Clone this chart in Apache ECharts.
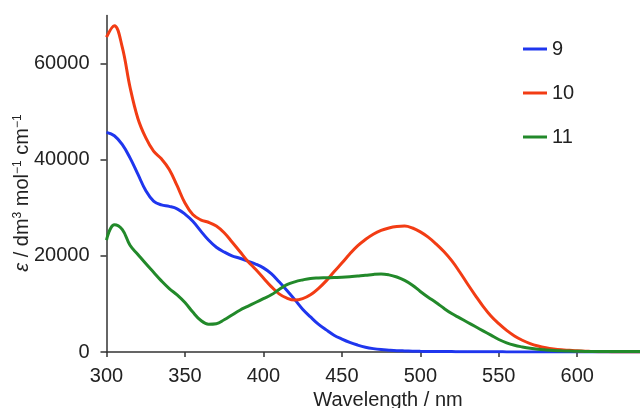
<!DOCTYPE html>
<html>
<head>
<meta charset="utf-8">
<script src="https://cdn.jsdelivr.net/npm/echarts@6/dist/echarts.min.js"></script>
<style>
html,body{margin:0;padding:0;background:#fff;}
#chart{width:640px;height:408px;}
</style>
</head>
<body>
<div id="chart"></div>
<script>
const wavelengths = [300,305,310,315,320,325,330,335,340,345,350,355,360,365,370,375,380,385,390,395,400,405,410,415,420,425,430,435,440,445,450,455,460,465,470,475,480,485,490,495,500,505,510,515,520,525,530,535,540,545,550,555,560,565,570,575,580,585,590,595,600,605,610,615,620,625,630,635,640];
const series9 = [45700,45000,43200,40400,37000,33600,31400,30600,30300,29800,28700,27200,25200,23300,21800,20800,20000,19500,18900,18300,17500,16300,14600,12800,10900,8900,7300,5800,4600,3500,2700,2000,1450,1000,700,500,380,280,220,170,140,120,100,90,80,70,60,50,40,35,30,25,20,15,10,5,0,0,0,0,0,0,0,0,0,0,0,0,0];
const series10 = [65500,67900,63500,55100,48600,44600,41800,40200,38000,34600,31000,28600,27500,27000,26200,24800,22900,20900,18900,17200,15400,13600,12100,11200,10800,11100,11900,13200,14800,16700,18500,20400,22100,23400,24500,25300,25800,26100,26200,25800,25000,23900,22500,20900,19000,16700,14200,11800,9500,7500,5900,4500,3350,2450,1750,1250,880,620,450,350,250,180,100,60,30,0,0,0,0];
const series11 = [23300,26500,25500,22200,20300,18400,16600,14800,13200,11900,10300,8300,6600,5800,5900,6700,7700,8700,9500,10300,11100,11900,13000,14000,14600,15000,15300,15400,15450,15500,15550,15650,15800,15950,16150,16250,16050,15600,14900,13900,12600,11400,10300,9100,8000,7100,6200,5300,4400,3500,2600,1900,1400,1050,760,550,420,320,250,200,150,120,100,100,100,100,100,100,100];
const seriesNames = ['9','10','11'];
const xTicks = [300,350,400,450,500,550,600];
const yTicks = [0,20000,40000,60000];
const xTitle = 'Wavelength / nm';

const colors = ['#1f36ee','#f23c14','#22892a'];
const font = 'Liberation Sans, Arial, sans-serif';
const pairs = arr => wavelengths.map((w,i)=>[w,arr[i]]);
const allSeries = [series9, series10, series11];

const chart = echarts.init(document.getElementById('chart'), null, {renderer:'canvas'});
chart.setOption({
  animation:false,
  backgroundColor:'#ffffff',
  grid:{left:106.5, right:0, top:15.6, bottom:56},
  legend:{
    orient:'vertical', left:518, top:34, icon:'rect', itemWidth:24, itemHeight:3, itemGap:24,
    textStyle:{fontFamily:font, fontSize:20, color:'#222'},
    data:seriesNames
  },
  xAxis:{
    type:'value', min:300, max:640,
    axisLine:{lineStyle:{color:'#333', width:1.5}},
    axisTick:{show:true, length:5, customValues:xTicks, lineStyle:{color:'#333', width:1.5}},
    axisLabel:{customValues:xTicks, margin:14, fontFamily:font, fontSize:20, color:'#222', formatter:v=>String(v)},
    splitLine:{show:false}
  },
  yAxis:{
    type:'value', min:0, max:70000,
    axisLine:{show:true, lineStyle:{color:'#333', width:1.5}},
    axisTick:{show:true, length:6, customValues:yTicks, lineStyle:{color:'#333', width:1.5}},
    axisLabel:{customValues:yTicks, margin:17, fontFamily:font, fontSize:20, color:'#222', formatter:v=>String(v)},
    splitLine:{show:false}
  },
  graphic:[
    {type:'text', x:388, y:400, style:{text:xTitle, fontFamily:font, fontSize:20, fill:'#222', align:'center', verticalAlign:'middle'}},
    {type:'text', x:22, y:193, rotation:Math.PI/2,
      style:{text:'{i|ε} / dm{s|3} mol{s|−1} cm{s|−1}', fontFamily:font, fontSize:20, fill:'#222', align:'center', verticalAlign:'middle',
        rich:{i:{fontStyle:'italic', fontFamily:font, fontSize:20, fill:'#222'}, s:{fontFamily:font, fontSize:12, verticalAlign:'top', fill:'#222'}}}}
  ],
  series: seriesNames.map((n,k)=>({
    name:n, type:'line', data:pairs(allSeries[k]), smooth:0.4, symbol:'none',
    lineStyle:{color:colors[k], width:3}, itemStyle:{color:colors[k]}
  }))
});
</script>
</body>
</html>
